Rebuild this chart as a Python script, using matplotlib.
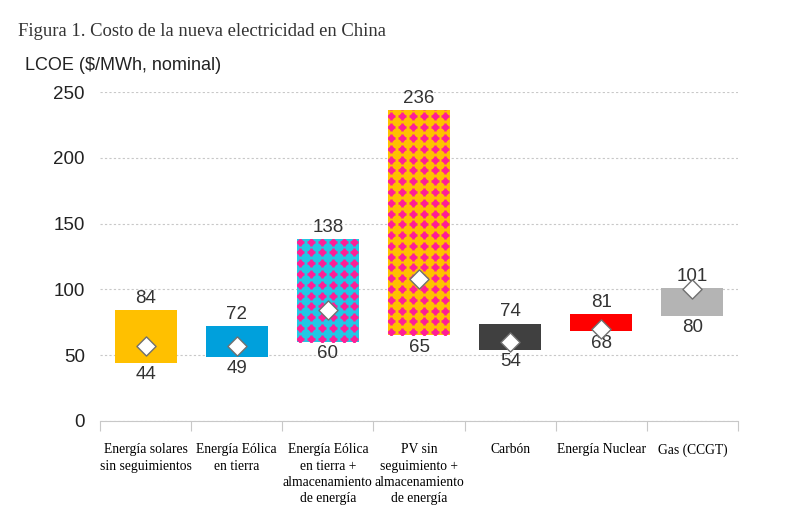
import numpy as np
import matplotlib.pyplot as plt

categories = ["Energía solares\nsin seguimientos", "Energía Eólica\nen tierra",
              "Energía Eólica\nen tierra +\nalmacenamiento\nde energía",
              "PV sin\nseguimiento +\nalmacenamiento\nde energía",
              "Carbón", "Energía Nuclear", "Gas (CCGT)"]
low = [44, 49, 60, 65, 54, 68, 80]
high = [84, 72, 138, 236, 74, 81, 101]
mid = [57, 57, 84, 108, 60, 70, 100]

colors = ["#FFC000", "#00A0DC", "#22C8E5", "#FFC000", "#404040", "#FF0000", "#B4B4B4"]
patterned = [False, False, True, True, False, False, False]
dot_color = "#FF1E96"

fig = plt.figure(figsize=(8, 5.3), dpi=100)
ax = fig.add_axes([0.125, 0.2057, 0.7975, 0.6207])

bw = 0.68
x = np.arange(len(categories))
for i in x:
    bars = ax.bar(x[i], high[i] - low[i], bottom=low[i], width=bw, color=colors[i],
                  linewidth=0, zorder=2)
    if patterned[i]:
        # dotted pattern (~11 px grid)
        dx, dy = 0.119, 8.2
        gx = np.arange(x[i] - bw / 2 + dx * 0.3, x[i] + bw / 2 + dx, dx)
        gy = np.arange(low[i] + dy * 0.3, high[i] + dy, dy)
        px, py = np.meshgrid(gx, gy)
        for mk, sz, lw in [("o", 20, 0), ("+", 34, 1.8)]:
            sc = ax.scatter(px.ravel(), py.ravel(), marker=mk, s=sz, color=dot_color,
                            linewidths=lw, zorder=3)
            sc.set_clip_path(bars[0])
    ax.text(x[i], high[i] + 2.5, str(high[i]), ha="center", va="bottom",
            fontsize=13.5, color="#333333", family="Liberation Sans")
    ax.text(x[i], low[i] - 2.5, str(low[i]), ha="center", va="top",
            fontsize=13.5, color="#333333", family="Liberation Sans")

ax.scatter(x, mid, marker="D", s=95, facecolor="white", edgecolor="#707070",
           linewidth=1, zorder=4)

ax.set_xlim(-0.5, len(categories) - 0.5)
ax.set_ylim(0, 250)
ax.set_yticks(np.arange(0, 251, 50))
ax.yaxis.grid(True, linestyle=(0, (2, 2)), color="#C8C8C8", linewidth=0.8)
ax.set_axisbelow(True)
for s in ["top", "right", "left"]:
    ax.spines[s].set_visible(False)
ax.spines["bottom"].set_color("#C8C8C8")
ax.tick_params(axis="y", length=0, labelsize=13.5, pad=11, labelcolor="#222222")
for lab in ax.get_yticklabels():
    lab.set_family("Liberation Sans")

ax.set_xticks(np.arange(len(categories) + 1) - 0.5)
ax.set_xticklabels([])
ax.tick_params(axis="x", length=7, color="#C8C8C8", direction="out")
for i, c in enumerate(categories):
    ax.text(i, -17, c, ha="center", va="top", fontsize=9.8, family="Liberation Serif",
            linespacing=1.32)

fig.text(0.022, 0.94, "Figura 1. Costo de la nueva electricidad en China",
         fontsize=13.4, family="Liberation Serif", color="#333333", va="center")
fig.text(0.031, 0.876, "LCOE ($/MWh, nominal)", fontsize=13,
         family="Liberation Sans", color="#222222", va="center")

fig.savefig("out.png", dpi=100)
